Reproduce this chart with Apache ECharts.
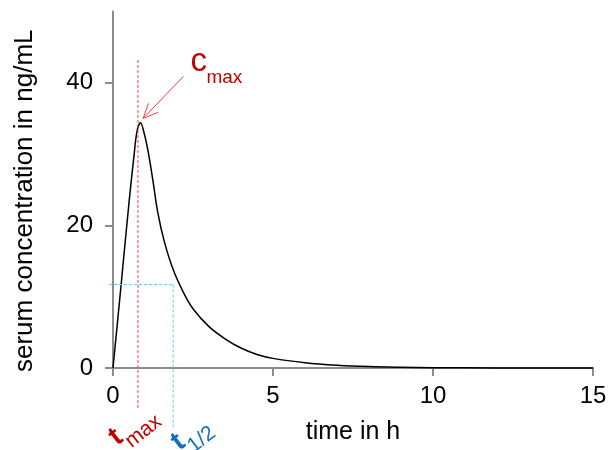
<!DOCTYPE html>
<html><head><meta charset="utf-8">
<script src="https://cdn.jsdelivr.net/npm/echarts@6/dist/echarts.min.js"></script>
<style>html,body{margin:0;padding:0;background:#fff}#c{width:611px;height:450px}</style>
</head><body><div id="c"></div>
<script>
// ---- data ----
const timeH = [0,0.25,0.5,0.65,0.75,0.86,0.97,1.1,1.25,1.4,1.6,1.88,2.2,2.5,3.0,3.5,4.0,4.5,5.0,6,7,8,9,10,12,15];
const conc  = [0,11.5,23.2,29.5,33.2,34.4,33.0,30.3,26.2,21.8,17.8,13.8,10.6,8.3,5.8,4.1,2.8,1.9,1.35,0.75,0.4,0.2,0.1,0.04,0.01,0];
const xTicks = [0,5,10,15];
const yTicks = [0,20,40];
const tMax = 0.78, tMaxLineTop = 43.2;
const tHalf = 1.88, cHalf = 11.7;
const arrowFrom = [2.2, 40.9], arrowTo = [0.94, 35.0];

const FONT = "'Liberation Sans', Arial, sans-serif";
const chart = echarts.init(document.getElementById('c'));
const axisCol = '#8c8c8c';
chart.setOption({
  animation: false,
  grid: {left: 113, right: 18, top: 11.5, bottom: 81},
  xAxis: {
    type: 'value', min: 0, max: 15, interval: 5,
    name: 'time in h', nameLocation: 'middle', nameGap: 52,
    nameTextStyle: {fontFamily: FONT, fontSize: 25, color: '#000'},
    axisLine: {onZero: false, lineStyle: {color: axisCol, width: 2}},
    axisTick: {show: true, length: 8, lineStyle: {color: axisCol, width: 2}, customValues: xTicks},
    axisLabel: {fontFamily: FONT, fontSize: 24, color: '#000', margin: 16, customValues: xTicks},
    splitLine: {show: false}
  },
  yAxis: {
    type: 'value', min: 0, max: 50,
    name: 'serum concentration in ng/mL', nameLocation: 'middle', nameGap: 75, nameRotate: 90,
    nameTextStyle: {fontFamily: FONT, fontSize: 26, color: '#000', padding: [0, 22, 0, 0]},
    axisLine: {show: true, lineStyle: {color: axisCol, width: 2}},
    axisTick: {show: true, length: 8, lineStyle: {color: axisCol, width: 2}, customValues: yTicks},
    axisLabel: {fontFamily: FONT, fontSize: 24, color: '#000', margin: 20, customValues: yTicks},
    splitLine: {show: false}
  },
  series: [{
    type: 'line', data: timeH.map((t, i) => [t, conc[i]]),
    showSymbol: false, symbol: 'none', smooth: 0.35,
    lineStyle: {color: '#000', width: 1.5}, clip: false, z: 3
  }]
});

const P = (x, y) => chart.convertToPixel({gridIndex: 0}, [x, y]);
const base = P(0, 0);
const redLine = '#f04040', blueLine = '#60c8ee', redText = '#c00000', blueText = '#1070c0';
const pTmaxTop = P(tMax, tMaxLineTop);
const pHalf = P(tHalf, cHalf);
const pA = P(arrowFrom[0], arrowFrom[1]), pB = P(arrowTo[0], arrowTo[1]);
const ang = Math.atan2(pA[1] - pB[1], pA[0] - pB[0]);
const headLen = 16, spread = 0.42;
const h1 = [pB[0] + headLen * Math.cos(ang + spread), pB[1] + headLen * Math.sin(ang + spread)];
const h2 = [pB[0] + headLen * Math.cos(ang - spread), pB[1] + headLen * Math.sin(ang - spread)];
const rot = 38 * Math.PI / 180;

function subLabel(ox, oy, main, sub, color, mainSize, subSize, dx, dy, r, bold) {
  return {
    type: 'group', x: ox, y: oy, rotation: r, z: 10,
    children: [
      {type: 'text', x: 0, y: 0, style: {text: main, font: (bold ? 'bold ' : '') + mainSize + 'px ' + FONT, fill: color, textAlign: 'left', textVerticalAlign: 'bottom'}},
      {type: 'text', x: dx, y: dy, style: {text: sub, font: subSize + 'px ' + FONT, fill: color, textAlign: 'left', textVerticalAlign: 'bottom'}}
    ]
  };
}

chart.setOption({
  graphic: [
    {type: 'line', z: 5, shape: {x1: pTmaxTop[0], y1: pTmaxTop[1], x2: pTmaxTop[0], y2: base[1] + 41}, style: {stroke: redLine, lineWidth: 1, lineDash: [3, 2]}},
    {type: 'line', z: 5, shape: {x1: base[0] - 4, y1: pHalf[1], x2: pHalf[0], y2: pHalf[1]}, style: {stroke: blueLine, lineWidth: 1, lineDash: [3, 2]}},
    {type: 'line', z: 5, shape: {x1: pHalf[0], y1: pHalf[1], x2: pHalf[0], y2: base[1] + 59}, style: {stroke: blueLine, lineWidth: 1, lineDash: [3, 2]}},
    {type: 'line', z: 6, shape: {x1: pA[0], y1: pA[1], x2: pB[0], y2: pB[1]}, style: {stroke: redLine, lineWidth: 1}},
    {type: 'polyline', z: 6, shape: {points: [h1, [pB[0], pB[1]], h2]}, style: {stroke: redLine, lineWidth: 1, fill: null}},
    subLabel(pA[0] + 7, pA[1] + 2, 'c', 'max', redText, 33, 19, 16, 9, 0, false),
    subLabel(pTmaxTop[0] - 17, base[1] + 83, 't', 'max', redText, 28, 21, 10, 9, rot, true),
    subLabel(pHalf[0] + 10, base[1] + 88, 't', '1/2', blueText, 28, 21, 10, 9, rot, true)
  ]
});
</script></body></html>
